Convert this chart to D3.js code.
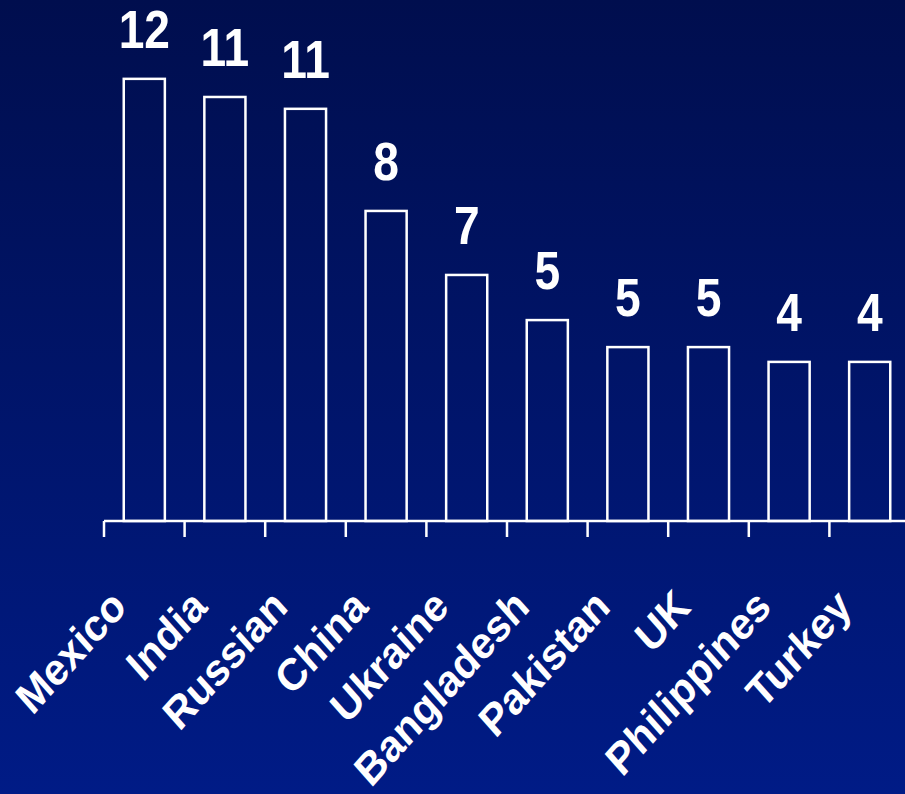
<!DOCTYPE html>
<html>
<head>
<meta charset="utf-8">
<script src="https://cdn.jsdelivr.net/npm/d3@7"></script>
<style>
  html, body { margin: 0; padding: 0; }
  body { width: 905px; height: 794px; overflow: hidden; }
</style>
</head>
<body>
<div class="box"></div>
<script>
// DATA
const countries = ['Mexico', 'India', 'Russian', 'China', 'Ukraine', 'Bangladesh', 'Pakistan', 'UK', 'Philippines', 'Turkey'];
const values = [11.95, 11.46, 11.14, 8.38, 6.65, 5.43, 4.7, 4.7, 4.3, 4.3];
const valueLabels = ['12', '11', '11', '8', '7', '5', '5', '5', '4', '4'];

// SETUP
const dims = {width: 905, height: 794};
const base = 521;
const pad = 0.49;

const svg = d3.select('.box')
              .append('svg')
              .attr('width', dims.width)
              .attr('height', dims.height);

// background gradient
const grad = svg.append('defs')
                .append('linearGradient')
                .attr('id', 'bg')
                .attr('x1', 0).attr('y1', 0)
                .attr('x2', 0).attr('y2', 1);
grad.append('stop').attr('offset', '0%').attr('stop-color', '#000e4e');
grad.append('stop').attr('offset', '100%').attr('stop-color', '#001b86');

svg.append('rect')
   .attr('width', dims.width)
   .attr('height', dims.height)
   .attr('fill', 'url(#bg)');

const x = d3.scaleBand()
            .domain(countries)
            .range([104, 910])
            .paddingInner(pad)
            .paddingOuter(pad / 2);

const y = d3.scaleLinear()
            .domain([0, 14])
            .range([base, base - 14 * 37]);

const data = countries.map((c, i) => ({name: c, value: values[i], label: valueLabels[i]}));

// bars (outlined only)
svg.append('g')
   .selectAll('rect')
   .data(data)
   .enter()
   .append('rect')
   .attr('x', d => x(d.name))
   .attr('y', d => y(d.value))
   .attr('width', x.bandwidth())
   .attr('height', d => y(0) - y(d.value))
   .attr('fill', 'none')
   .attr('stroke', '#fff')
   .attr('stroke-width', 2.5);

// value labels (condensed bold)
svg.append('g')
   .selectAll('text')
   .data(data)
   .enter()
   .append('text')
   .attr('transform', d => `translate(${x(d.name) + x.bandwidth() / 2}, ${y(d.value) - 31}) scale(0.87, 1)`)
   .attr('text-anchor', 'middle')
   .attr('fill', '#fff')
   .style('font-family', '"Liberation Sans", Arial, sans-serif')
   .style('font-weight', 'bold')
   .style('font-size', '53px')
   .text(d => d.label);

// axis: baseline + ticks at band boundaries
const axis = svg.append('g').attr('stroke', '#fff').attr('stroke-width', 2.5);
axis.append('line')
    .attr('x1', 104).attr('x2', dims.width)
    .attr('y1', base).attr('y2', base);
axis.selectAll('.tick')
    .data(countries)
    .enter()
    .append('line')
    .attr('class', 'tick')
    .attr('x1', d => x(d) - x.step() * pad / 2)
    .attr('x2', d => x(d) - x.step() * pad / 2)
    .attr('y1', base)
    .attr('y2', base + 16);

// category labels (slightly stretched vertically, like the original slide)
svg.append('g')
   .selectAll('text')
   .data(countries)
   .enter()
   .append('text')
   .attr('transform', d => `translate(${x(d) + x.bandwidth() / 2 - 16}, 609) scale(1, 1.12) rotate(-45)`)
   .attr('text-anchor', 'end')
   .attr('fill', '#fff')
   .style('font-family', '"Liberation Sans", Arial, sans-serif')
   .style('font-weight', 'bold')
   .style('font-size', '40px')
   .text(d => d);
</script>
</body>
</html>
